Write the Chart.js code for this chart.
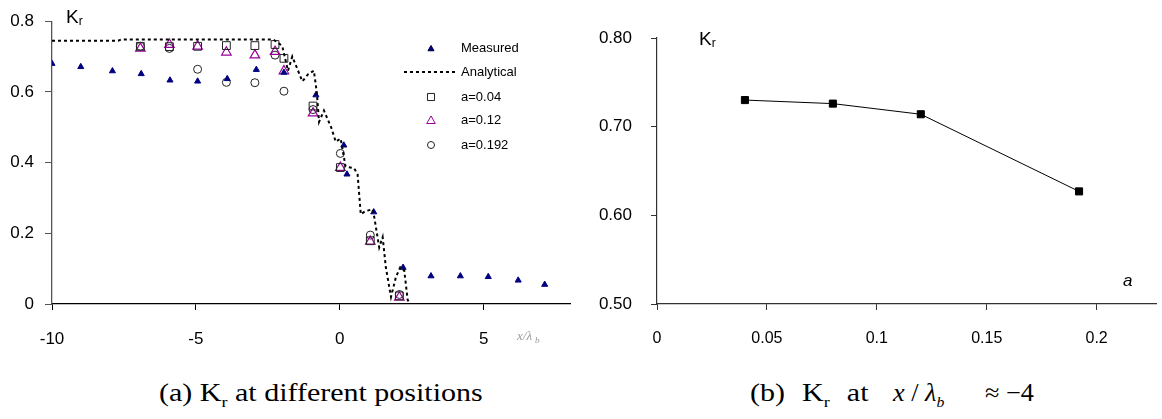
<!DOCTYPE html>
<html>
<head>
<meta charset="utf-8">
<script src="https://cdn.jsdelivr.net/npm/chart.js@4.4.1/dist/chart.umd.min.js"></script>
<style>
  body { margin: 0; background: #fff; width: 1162px; height: 419px; overflow: hidden; position: relative; }
  .caja { position: absolute; top: 0; }
  .pie { position: absolute; top: 379px; font-family: "Liberation Serif", "Times New Roman", serif; font-size: 25px; line-height: 28px; color: #000; white-space: nowrap; transform: scaleX(1.2); transform-origin: left top; }
  .pie sub { font-size: 15px; line-height: 0; }
  .pie i { font-style: italic; }
</style>
</head>
<body>
<div class="caja" style="left:0; width:580px; height:350px;"><canvas id="graficoA"></canvas></div>
<div class="caja" style="left:580px; width:582px; height:350px;"><canvas id="graficoB"></canvas></div>
<div class="pie" style="left:159px;">(a) K<sub>r</sub> at different positions</div>
<div class="pie" style="left:750px; word-spacing: 8px;">(b) K<sub>r</sub> at</div>
<div class="pie" style="left:893px; transform: scaleX(1.05);"><i>x</i> / <i>λ<sub>b</sub></i></div>
<div class="pie" style="left:985px; transform: scaleX(1.05);">≈ −4</div>

<script>
// Datos (a)
const medidoX = [-10, -9, -7.9, -6.9, -5.9, -4.94, -3.91, -2.9, -1.94, -0.83, 0.14, 0.25, 1.18, 2.2, 3.17, 4.19, 5.16, 6.2, 7.12];
const medidoY = [0.680, 0.671, 0.659, 0.651, 0.633, 0.630, 0.637, 0.663, 0.655, 0.591, 0.449, 0.367, 0.260, 0.103, 0.079, 0.079, 0.077, 0.067, 0.055];

const analiticoX = [-10, -7.7, -7.6, -2.3, -2.0, -1.8, -1.65, -1.3, -1.1, -0.9, -0.8, -0.72, -0.55, -0.3, -0.14, 0.03, 0.2, 0.5, 0.62, 0.73, 0.9, 1.14, 1.2, 1.37, 1.49, 1.6, 1.78, 1.95, 2.1, 2.24, 2.36, 2.47];
const analiticoY = [0.745, 0.745, 0.748, 0.748, 0.73, 0.66, 0.70, 0.63, 0.65, 0.66, 0.60, 0.515, 0.547, 0.50, 0.459, 0.468, 0.389, 0.384, 0.366, 0.254, 0.263, 0.268, 0.245, 0.16, 0.189, 0.104, 0.02, 0.076, 0.104, 0.095, 0.011, 0];

const posX = [-6.93, -5.92, -4.94, -3.94, -2.95, -2.25, -1.94, -0.93, 0.02, 1.06, 2.07];
const a004Y = [0.729, 0.728, 0.729, 0.731, 0.731, 0.734, 0.695, 0.560, 0.386, 0.179, 0.023];
const a012Y = [0.723, 0.734, 0.729, 0.712, 0.704, 0.714, 0.659, 0.540, 0.386, 0.177, 0.019];
const a0192Y = [0.729, 0.723, 0.664, 0.627, 0.626, 0.704, 0.602, 0.550, 0.426, 0.195, 0.027];

const ticksXA = [-10, -5, 0, 5];
const ticksYA = [0, 0.2, 0.4, 0.6, 0.8];

// Datos de la figura (b)
const valoresA = [0.04, 0.08, 0.12, 0.192];
const krEnMenos4 = [0.730, 0.726, 0.714, 0.627];
const ticksXB = [0, 0.05, 0.1, 0.15, 0.2];
const ticksYB = [0.5, 0.6, 0.7, 0.8];

const fuente = "'Liberation Sans', Arial, sans-serif";
const azulMarino = '#000080';
const morado = '#990099';

function puntos(xs, ys) {
    return xs.map((x, i) => ({ x: x, y: ys[i] }));
}

// "Kr" con subindice
function textoKr(ctx, x, y) {
    ctx.save();
    ctx.fillStyle = '#000';
    ctx.textBaseline = 'middle';
    ctx.textAlign = 'left';
    ctx.font = '19px ' + fuente;
    ctx.fillText('K', x, y);
    const w = ctx.measureText('K').width;
    ctx.font = '12px ' + fuente;
    ctx.fillText('r', x + w, y + 4);
    ctx.restore();
}

// Leyenda y titulos del grafico (a)
const extrasA = {
    id: 'extrasA',
    afterDraw(chart) {
        const ctx = chart.ctx;
        textoKr(ctx, 66, 18);

        ctx.save();
        ctx.font = '13px ' + fuente;
        ctx.textBaseline = 'middle';
        ctx.fillStyle = '#000';
        const tx = 461;
        ctx.fillText('Measured', tx, 48);
        ctx.fillText('Analytical', tx, 72);
        ctx.fillText('a=0.04', tx, 97);
        ctx.fillText('a=0.12', tx, 120);
        ctx.fillText('a=0.192', tx, 145);

        ctx.fillStyle = azulMarino;
        Chart.helpers.drawPoint(ctx, { pointStyle: 'triangle', radius: 3.5, rotation: 0, borderWidth: 1 }, 431, 49);
        ctx.fill();

        ctx.strokeStyle = '#000';
        ctx.lineWidth = 2;
        ctx.setLineDash([3, 3]);
        ctx.beginPath();
        ctx.moveTo(404, 72);
        ctx.lineTo(458, 72);
        ctx.stroke();
        ctx.setLineDash([]);

        ctx.lineWidth = 1;
        ctx.strokeStyle = '#222';
        ctx.fillStyle = 'rgba(0,0,0,0)';
        Chart.helpers.drawPoint(ctx, { pointStyle: 'rect', radius: 5, rotation: 0, borderWidth: 1 }, 431, 97);
        ctx.strokeStyle = morado;
        Chart.helpers.drawPoint(ctx, { pointStyle: 'triangle', radius: 5, rotation: 0, borderWidth: 1 }, 431, 121);
        ctx.strokeStyle = '#222';
        Chart.helpers.drawPoint(ctx, { pointStyle: 'circle', radius: 3.5, rotation: 0, borderWidth: 1 }, 431, 145);

        // titulo eje x (borroso en el original)
        ctx.fillStyle = '#999';
        ctx.font = 'italic 13px "Liberation Serif", serif';
        ctx.fillText('x/λ', 517, 337);
        ctx.font = 'italic 9px "Liberation Serif", serif';
        ctx.fillText('b', 535, 341);
        ctx.restore();
    }
};

// el Kr y la "a" de (b), relativos a su canvas
const extrasB = {
    id: 'extrasB',
    afterDraw(chart) {
        const ctx = chart.ctx;
        textoKr(ctx, 119, 40);
        ctx.save();
        ctx.fillStyle = '#000';
        ctx.font = 'italic 17px ' + fuente;
        ctx.textBaseline = 'middle';
        ctx.fillText('a', 543, 281);
        ctx.restore();
    }
};

Chart.defaults.font.family = fuente;
Chart.defaults.color = '#000';
Chart.defaults.animation = false;

new Chart(document.getElementById('graficoA'), {
    type: 'scatter',
    data: {
        datasets: [
            {
                label: 'Analytical',
                data: puntos(analiticoX, analiticoY),
                showLine: true,
                borderColor: '#000',
                borderWidth: 2,
                borderDash: [3, 3],
                pointRadius: 0,
                tension: 0
            },
            {
                label: 'Measured',
                data: puntos(medidoX, medidoY),
                pointStyle: 'triangle',
                pointRadius: 3.5,
                backgroundColor: azulMarino,
                borderColor: azulMarino,
                borderWidth: 1
            },
            {
                label: 'a=0.04',
                data: puntos(posX, a004Y),
                pointStyle: 'rect',
                pointRadius: 5.5,
                backgroundColor: 'rgba(0,0,0,0)',
                borderColor: '#222',
                borderWidth: 1
            },
            {
                label: 'a=0.12',
                data: puntos(posX, a012Y),
                pointStyle: 'triangle',
                pointRadius: 5.5,
                backgroundColor: 'rgba(0,0,0,0)',
                borderColor: morado,
                borderWidth: 1.2
            },
            {
                label: 'a=0.192',
                data: puntos(posX, a0192Y),
                pointStyle: 'circle',
                pointRadius: 4,
                backgroundColor: 'rgba(0,0,0,0)',
                borderColor: '#222',
                borderWidth: 1
            }
        ]
    },
    options: {
        responsive: true,
        maintainAspectRatio: false,
        layout: { padding: { top: 18, right: 10, left: 0, bottom: 0 } },
        plugins: { legend: { display: false }, tooltip: { enabled: false } },
        scales: {
            x: {
                type: 'linear',
                min: -10,
                max: 8,
                afterBuildTicks: s => { s.ticks = ticksXA.map(v => ({ value: v })); },
                afterFit: s => { s.height = 46; },
                grid: { drawOnChartArea: false, tickLength: 6, color: '#000' },
                border: { color: '#000', width: 1.3 },
                ticks: { font: { size: 17 }, padding: 19 }
            },
            y: {
                min: 0,
                max: 0.8,
                afterBuildTicks: s => { s.ticks = ticksYA.map(v => ({ value: v })); },
                afterFit: s => { s.width = 52; },
                grid: { drawOnChartArea: false, tickLength: 7, color: '#555' },
                border: { color: '#555', width: 1.3 },
                ticks: { font: { size: 17 }, padding: 11 }
            }
        }
    },
    plugins: [extrasA]
});

new Chart(document.getElementById('graficoB'), {
    type: 'scatter',
    data: {
        datasets: [{
            label: 'Kr',
            data: puntos(valoresA, krEnMenos4),
            showLine: true,
            borderColor: '#000',
            borderWidth: 1,
            pointStyle: 'rect',
            pointRadius: 5,
            backgroundColor: '#000',
            pointBorderColor: '#000',
            tension: 0
        }]
    },
    options: {
        responsive: true,
        maintainAspectRatio: false,
        layout: { padding: { top: 38, right: 0, left: 0, bottom: 0 } },
        plugins: { legend: { display: false }, tooltip: { enabled: false } },
        scales: {
            x: {
                type: 'linear',
                min: 0,
                max: 0.227,
                afterBuildTicks: s => { s.ticks = ticksXB.map(v => ({ value: v })); },
                afterFit: s => { s.height = 46; },
                grid: { drawOnChartArea: false, tickLength: 6, color: '#333' },
                border: { color: '#333', width: 1.2 },
                ticks: { font: { size: 16 }, padding: 19, callback: v => String(v) }
            },
            y: {
                min: 0.5,
                max: 0.8,
                afterBuildTicks: s => { s.ticks = ticksYB.map(v => ({ value: v })); },
                afterFit: s => { s.width = 77; },
                grid: { drawOnChartArea: false, tickLength: 6, color: '#333' },
                border: { color: '#333', width: 1.2 },
                ticks: { font: { size: 17 }, padding: 19, callback: v => v.toFixed(2) }
            }
        }
    },
    plugins: [extrasB]
});
</script>
</body>
</html>
